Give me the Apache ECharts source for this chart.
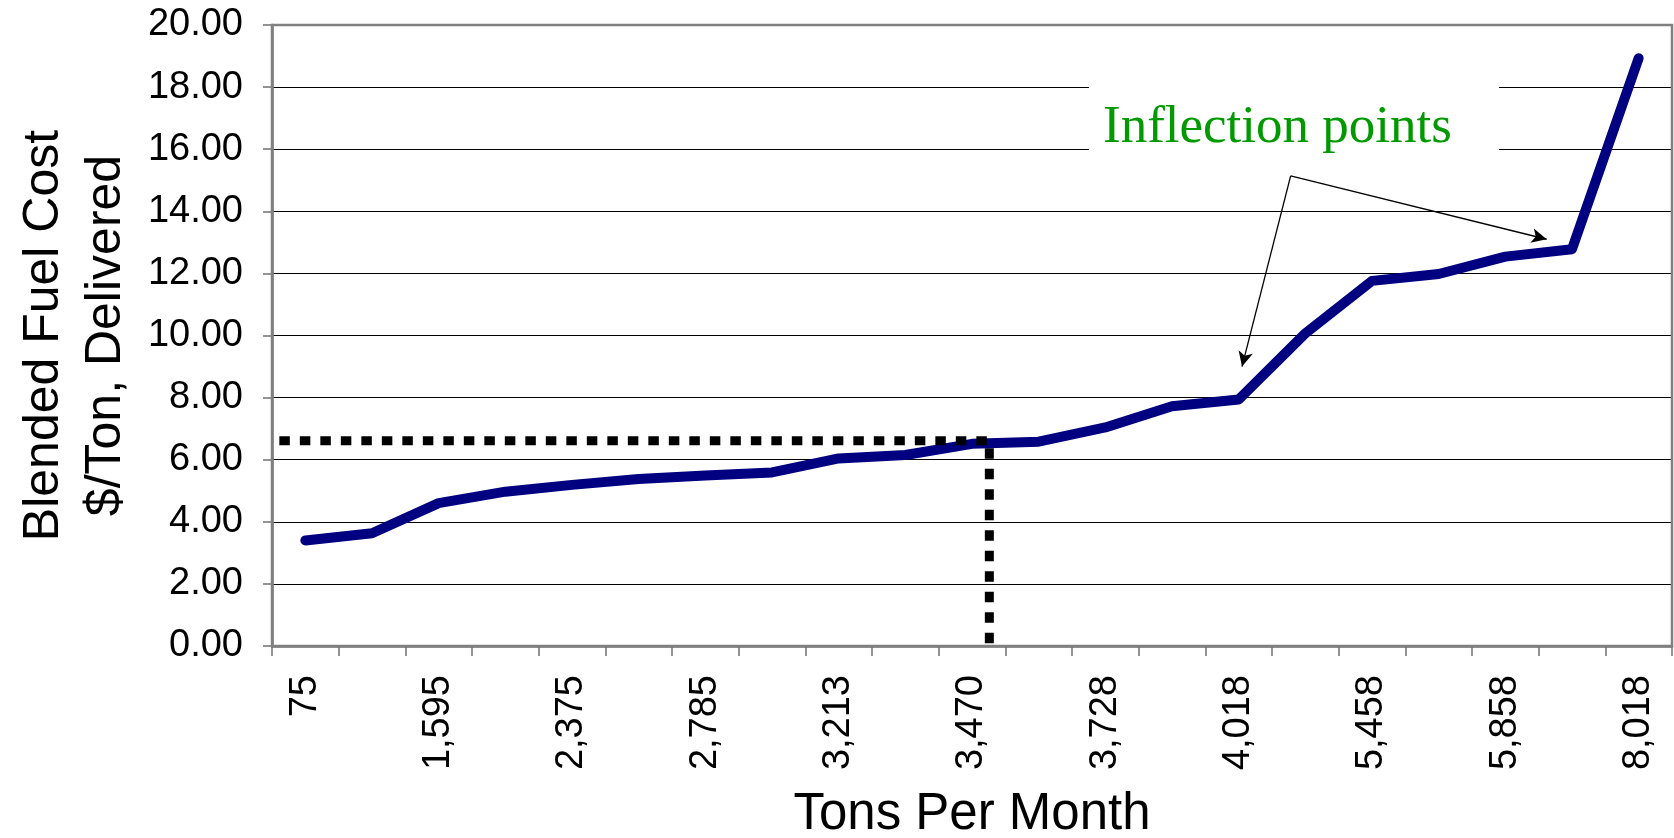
<!DOCTYPE html>
<html>
<head>
<meta charset="utf-8">
<script src="https://cdn.jsdelivr.net/npm/echarts@6/dist/echarts.min.js"></script>
<style>
  html, body { margin: 0; padding: 0; background: #fff; }
  #chart { width: 1674px; height: 838px; }
</style>
</head>
<body>
<div id="chart"></div>
<script>
// tons per month (every other label is shown on the axis)
var tons = ['75', '1,020', '1,595', '2,010', '2,375', '2,590', '2,785', '3,010', '3,213', '3,350', '3,470',
  '3,600', '3,728', '3,870', '4,018', '4,760', '5,458', '5,650', '5,858', '6,940', '8,018'];
// blended fuel cost, $/ton delivered
var cost = [3.40, 3.63, 4.60, 4.97, 5.19, 5.38, 5.49, 5.59, 6.04, 6.15, 6.51,
  6.58, 7.04, 7.72, 7.94, 10.07, 11.76, 11.98, 12.54, 12.78, 18.93];
// dotted read-off line, [category position, cost]
var readOff = [[0.11, 6.61], [10.76, 6.61], [10.76, 0]];
// arrows from the label to the two inflection points
var arrowFrom = [15.28, 15.14];
var arrowTo = [[14.55, 9.0], [19.12, 13.1]];

var sans = 'Liberation Sans, Arial, sans-serif';
var chart = echarts.init(document.getElementById('chart'));

var option = {
  animation: false,
  grid: {
    left: 272, right: 2, top: 25, bottom: 192,
    containLabel: false,
    outerBoundsMode: 'none',
    show: true, z: 1,
    borderColor: '#808080', borderWidth: 2.5,
    backgroundColor: 'transparent'
  },
  xAxis: [
    {
      type: 'category',
      data: tons,
      boundaryGap: true,
      name: 'Tons Per Month',
      nameLocation: 'middle',
      nameGap: 141,
      nameTextStyle: {fontFamily: sans, fontSize: 51, color: '#000', lineHeight: 56},
      axisLine: {lineStyle: {color: '#707070', width: 2.5}},
      axisTick: {show: true, interval: 0, length: 10, lineStyle: {color: '#707070', width: 1.5}},
      axisLabel: {
        interval: 1, rotate: 90, margin: 29,
        fontFamily: sans, fontSize: 38, color: '#000'
      },
      splitLine: {show: false}
    },
    {
      // hidden positional axis for the read-off line and arrows
      type: 'value', min: 0, max: tons.length, show: false
    }
  ],
  yAxis: {
    type: 'value',
    min: 0, max: 20, interval: 2,
    name: 'Blended Fuel Cost\n$/Ton, Delivered',
    nameLocation: 'middle',
    nameRotate: 90,
    nameGap: 133,
    nameTextStyle: {fontFamily: sans, fontSize: 50, color: '#000', lineHeight: 62},
    axisLine: {show: true, lineStyle: {color: '#707070', width: 2.5}},
    axisTick: {show: true, length: 9, lineStyle: {color: '#707070', width: 1.5}},
    axisLabel: {
      margin: 29, fontFamily: sans, fontSize: 38, color: '#000',
      formatter: function (v) { return v.toFixed(2); }
    },
    splitLine: {show: true, lineStyle: {color: '#000', width: 1}}
  },
  graphic: [
    {
      type: 'rect', z: 5,
      shape: {x: 1089, y: 62, width: 410, height: 108},
      style: {fill: '#fff'}
    },
    {
      type: 'text', z: 6,
      x: 1103, y: 128,
      style: {
        text: 'Inflection points',
        font: '53px "Liberation Serif", "Times New Roman", serif',
        fill: '#009900',
        verticalAlign: 'middle'
      }
    }
  ],
  series: [
    {
      name: 'Blended Fuel Cost',
      type: 'line',
      data: cost,
      showSymbol: false,
      symbol: 'none',
      z: 3,
      lineStyle: {color: '#000080', width: 10, cap: 'round', join: 'round'}
    },
    {
      name: 'read-off',
      type: 'line',
      xAxisIndex: 1,
      data: readOff,
      symbol: 'none',
      z: 4,
      lineStyle: {color: '#000', width: 9, type: [10.5, 10], cap: 'butt'},
      markLine: {
        silent: true,
        symbol: ['none', 'arrow'],
        symbolSize: [11, 15],
        label: {show: false},
        lineStyle: {color: '#000', width: 1.3, type: 'solid'},
        emphasis: {disabled: true},
        data: arrowTo.map(function (p) {
          return [{coord: arrowFrom}, {coord: p}];
        })
      }
    }
  ]
};

chart.setOption(option);
</script>
</body>
</html>
